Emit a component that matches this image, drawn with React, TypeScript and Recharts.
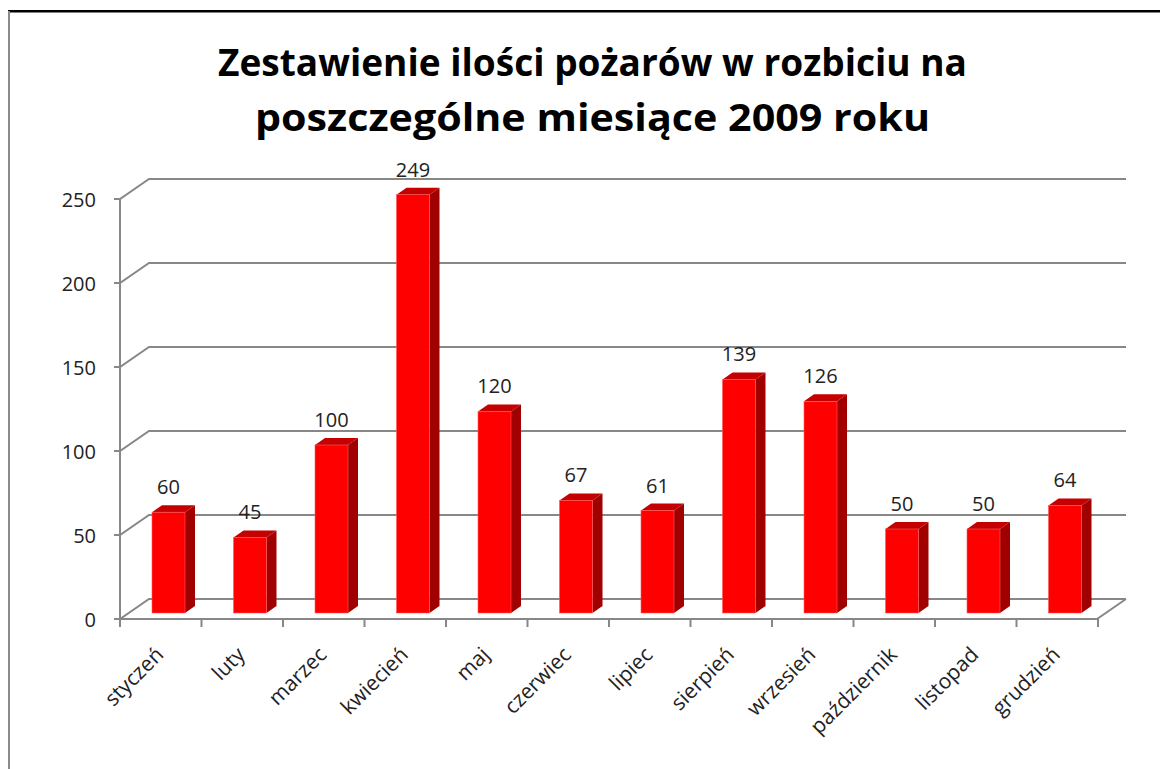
import React from 'react';
import { BarChart, Bar, XAxis, YAxis, CartesianGrid, LabelList } from 'recharts';

// months of 2009 and number of fires in each
const months = [
  'styczeń', 'luty', 'marzec', 'kwiecień', 'maj', 'czerwiec',
  'lipiec', 'sierpień', 'wrzesień', 'październik', 'listopad', 'grudzień',
];
const fires = [60, 45, 100, 249, 120, 67, 61, 139, 126, 50, 50, 64];
const yTicks = [0, 50, 100, 150, 200, 250];

const titleLines = [
  'Zestawienie ilości pożarów w rozbiciu na',
  'poszczególne miesiące 2009 roku',
];

const data = months.map((m, i) => ({ month: m, count: fires[i] }));

const W = 1160;
const H = 761;
const M = { top: 185, right: 62, bottom: 56, left: 60 };
const Y_AXIS_W = 60;
const X_AXIS_H = 100;
const PLOT_LEFT = M.left + Y_AXIS_W;
const PLOT_RIGHT = W - M.right;
const PLOT_BOTTOM = H - M.bottom - X_AXIS_H;
const BAND = (PLOT_RIGHT - PLOT_LEFT) / months.length;

// 3d offsets: front plane, back wall, bar depth
const FRONT = { dx: -8, dy: 6 };
const BACK = { dx: 21, dy: -14 };
const DEPTH = { dx: 10, dy: -7 };

const FONT = '"Open Sans", "Noto Sans", sans-serif';
const GRID = '#878787';
const TXT = '#222';

const Bar3D = (props: any) => {
  const { x, y, width, height } = props;
  if (height == null || height <= 0) return null;
  const top = `${x},${y} ${x + DEPTH.dx},${y + DEPTH.dy} ${x + width + DEPTH.dx},${y + DEPTH.dy} ${x + width},${y}`;
  const side = `${x + width},${y} ${x + width + DEPTH.dx},${y + DEPTH.dy} ${x + width + DEPTH.dx},${y + height + DEPTH.dy} ${x + width},${y + height}`;
  return (
    <g>
      <polygon points={side} fill="#a00000" />
      <polygon points={top} fill="#c40000" />
      <rect x={x} y={y} width={width} height={height} fill="#ff0000" stroke="#ff5a5a" strokeWidth={0.6} />
    </g>
  );
};

const GridLine = (props: any) => {
  const { x1, x2, y1 } = props;
  const y = y1;
  const isFloor = Math.abs(y - PLOT_BOTTOM) < 1;
  const fx = x1 + FRONT.dx;
  const fy = y + FRONT.dy;
  return (
    <g key={`g-${y}`}>
      <path
        d={`M${fx - 6},${fy} L${fx},${fy} L${x1 + BACK.dx},${y + BACK.dy} L${x2 + BACK.dx - 1},${y + BACK.dy}`}
        stroke={GRID}
        strokeWidth={2}
        fill="none"
      />
      {isFloor && (
        <>
          <path
            d={`M${fx},${fy} L${x2 + FRONT.dx - 1},${fy} L${x2 + BACK.dx - 1},${y + BACK.dy}`}
            stroke={GRID}
            strokeWidth={2}
            fill="none"
          />
          <line x1={fx} y1={fy} x2={fx} y2={M.top + FRONT.dy} stroke={GRID} strokeWidth={2} />
        </>
      )}
    </g>
  );
};

const YTick = (props: any) => {
  const { x, y, payload } = props;
  return (
    <text
      x={x - 32}
      y={y + FRONT.dy}
      textAnchor="end"
      dominantBaseline="central"
      fontSize={20}
      fontFamily={FONT}
      fill={TXT}
    >
      {payload.value}
    </text>
  );
};

const XTick = (props: any) => {
  const { x, y, payload, index } = props;
  const cx = x + FRONT.dx;
  const ay = y + FRONT.dy;
  const left = cx - BAND / 2;
  const tx = cx + 4;
  const ty = ay + 37;
  return (
    <g>
      <line x1={left} y1={ay} x2={left} y2={ay + 8} stroke={GRID} strokeWidth={2} />
      {index === months.length - 1 && (
        <line x1={left + BAND} y1={ay} x2={left + BAND} y2={ay + 8} stroke={GRID} strokeWidth={2} />
      )}
      <text
        x={tx}
        y={ty}
        textAnchor="end"
        transform={`rotate(-45 ${tx} ${ty})`}
        fontSize={21}
        fontFamily={FONT}
        fill={TXT}
      >
        {payload.value}
      </text>
    </g>
  );
};

const ValueLabel = (props: any) => {
  const { x, y, width, value } = props;
  return (
    <text x={x + width / 2} y={y - 18} textAnchor="middle" fontSize={20} fontFamily={FONT} fill={TXT}>
      {value}
    </text>
  );
};

export default function App() {
  return (
    <div style={{ position: 'relative', width: W, height: H, background: '#fff' }}>
      <svg width={W} height={H} style={{ position: 'absolute', left: 0, top: 0 }}>
        <rect x={0} y={2} width={W} height={2.5} fill="#000" />
        <rect x={0} y={3} width={2} height={H - 3} fill="#8a8a8a" />
        <text
          x={584.5}
          y={68}
          textAnchor="middle"
          fontSize={38}
          fontWeight="bold"
          fontFamily={FONT}
          fill="#000"
          textLength={749}
          lengthAdjust="spacingAndGlyphs"
        >
          {titleLines[0]}
        </text>
        <text
          x={584.5}
          y={123}
          textAnchor="middle"
          fontSize={38}
          fontWeight="bold"
          fontFamily={FONT}
          fill="#000"
          textLength={675}
          lengthAdjust="spacingAndGlyphs"
        >
          {titleLines[1]}
        </text>
      </svg>
      <div style={{ position: 'absolute', left: 0, top: 0 }}>
        <BarChart width={W} height={H} data={data} margin={M} barSize={33}>
          <CartesianGrid horizontal={GridLine} vertical={false} />
          <XAxis
            dataKey="month"
            height={X_AXIS_H}
            axisLine={false}
            tickLine={false}
            tickSize={0}
            tickMargin={0}
            interval={0}
            tick={XTick}
          />
          <YAxis
            width={Y_AXIS_W}
            domain={[0, 250]}
            ticks={yTicks}
            axisLine={false}
            tickLine={false}
            tickSize={0}
            tickMargin={0}
            tick={YTick}
          />
          <Bar dataKey="count" shape={Bar3D} isAnimationActive={false}>
            <LabelList dataKey="count" content={ValueLabel} />
          </Bar>
        </BarChart>
      </div>
    </div>
  );
}
